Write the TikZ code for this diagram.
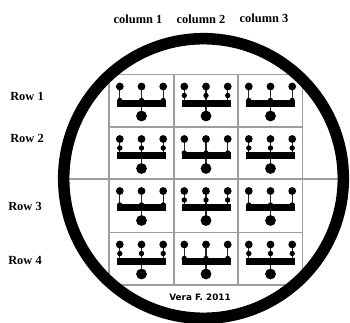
\documentclass[tikz,border=0pt]{standalone}
\usepackage{fontspec}
\setmainfont{Liberation Serif}
\newfontfamily\verafont{DejaVu Sans}
\tikzset{
  gridline/.style={draw=black!38, line width=1.3pt},
  ring/.style={draw=black, line width=11.5pt},
  lbl/.style={font=\fontsize{12.4}{14}\selectfont\bfseries, inner sep=0pt, anchor=base},
  sign/.style={font=\verafont\fontsize{8.8}{10}\selectfont\bfseries, inner sep=0pt, anchor=base},
  stem/.style={draw=black!85, line width=1.2pt},
}
% glyph: #1 = centre x, #2 = cell top y, #3 = small-dot offset
\newcommand\veraglyph[3]{%
  \foreach \dx in {-21.7,0,21.7}{
    \draw[stem] (#1+\dx,#2+12) -- (#1+\dx,#2+26);
    \fill (#1+\dx,#2+12) circle (3.9);
    \fill (#1+\dx,#2+#3) circle (2.7);
  }
  \draw[stem] (#1,#2+31) -- (#1,#2+41.5);
  \fill (#1-24.5,#2+25.3) rectangle (#1+24.5,#2+32.2);
  \fill (#1,#2+41.5) circle (5.4);
}
\begin{document}
\begin{tikzpicture}[x=1pt,y=-1pt]
\useasboundingbox (0,0) rectangle (350,323);
% grid
\draw[gridline] (109,74.5) rectangle (302.5,285);
\foreach \x in {174,238}{\draw[gridline] (\x,74.5) -- (\x,285);}
\foreach \y in {127,232.5}{\draw[gridline] (109,\y) -- (302.5,\y);}
\draw[gridline] (60,179) -- (346,179);
% glyphs
\foreach \cx/\ty/\off in {
  141.5/74.5/26, 206/74.5/21, 270.5/74.5/26,
  141.5/127/21, 206/127/26, 270.5/127/21,
  141.5/179/26, 206/179/21, 270.5/179/26,
  141.5/232.5/21, 206/232.5/26, 270.5/232.5/21}{
  \veraglyph{\cx}{\ty}{\off}
}
% ring
\draw[ring] (203.5,178.5) circle (139.8);
% labels
\node[lbl] (c1) at (138,24) {column 1};
\node[lbl] (c2) at (201,24) {column 2};
\node[lbl] (c3) at (264,22.5) {column 3};
\node[lbl] (r1) at (27,100.7) {Row 1};
\node[lbl] (r2) at (27,142.7) {Row 2};
\node[lbl] (r3) at (25,210.7) {Row 3};
\node[lbl] (r4) at (25,264) {Row 4};
\node[sign] (v) at (200,300.7) {Vera F. 2011};
\end{tikzpicture}
\end{document}
